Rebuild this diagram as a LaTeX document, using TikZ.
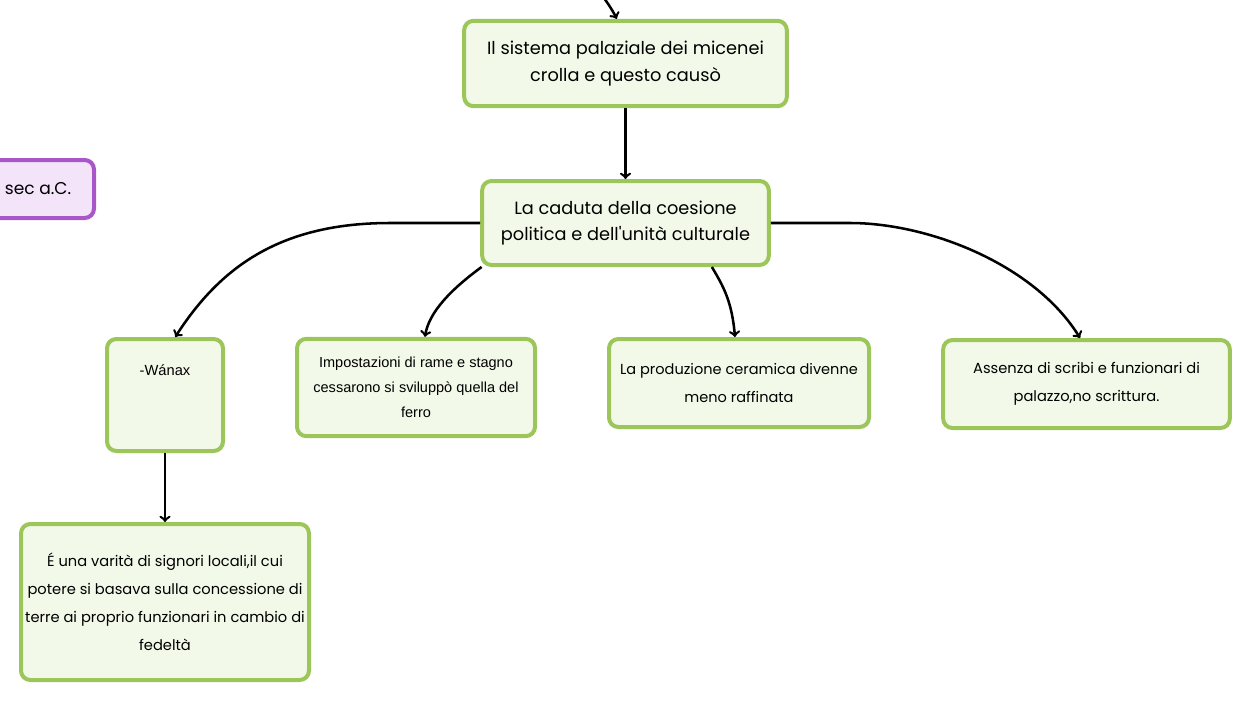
\documentclass[tikz,border=0pt]{standalone}
\usepackage{fontspec}
\setmainfont{Poppins}
\newfontfamily\arialfont{Liberation Sans}
\usepackage{tikz}
\usetikzlibrary{positioning, arrows}
\definecolor{boxgreen}{HTML}{9CC65A}
\definecolor{boxfill}{HTML}{F3F9E9}
\definecolor{boxpurple}{HTML}{A956C8}
\definecolor{purplefill}{HTML}{F3E4FA}
\tikzset{->, >=to, every node/.style={align=center, inner sep=0pt}, concept/.style={draw=boxgreen, fill=boxfill, line width=3pt, rounded corners=7pt}, link/.style={line width=1.9pt}}

\begin{document}
\begin{tikzpicture}[x=0.75pt, y=-0.75pt]
	\useasboundingbox (0,0) rectangle (1252,703);
	\node[concept, minimum width=242pt, minimum height=64pt, font=\fontsize{13.3}{20}\selectfont] at (625.5,63.5) (Crollo) {Il sistema palaziale dei micenei\\crolla e questo causò\rule[-2pt]{0pt}{0pt}};
	\node[concept, minimum width=215pt, minimum height=63pt, font=\fontsize{13.3}{20}\selectfont] at (625.5,223) (Caduta) {La caduta della coesione\\politica e dell\textquotesingle unità culturale};
	\node[draw=boxpurple, fill=purplefill, line width=3pt, rounded corners=7pt, minimum width=84pt, minimum height=43.5pt, font=\fontsize{12.8}{16}\selectfont] at (38,189) (Secolo) {sec a.C.};
	\node[concept, minimum width=87pt, text height=27pt, text depth=57pt, font=\arialfont\fontsize{11}{18}\selectfont] at (165,395) (Wanax) {-Wánax};
	\node[concept, minimum width=178.5pt, minimum height=73pt, font=\arialfont\fontsize{10.9}{18.75}\selectfont] at (416,387.5) (Rame) {Impostazioni di rame e stagno\\cessarono si sviluppò quella del\\ferro};
	\node[concept, minimum width=195pt, minimum height=66pt, font=\fontsize{10.9}{21}\selectfont] at (739,383) (Ceramica) {La produzione ceramica divenne\\meno raffinata};
	\node[concept, minimum width=215pt, minimum height=66pt, font=\fontsize{11}{21}\selectfont] at (1086.5,384) (Scribi) {Assenza di scribi e funzionari di\\palazzo,no scrittura.};
	\node[concept, minimum width=216pt, minimum height=117pt, font=\fontsize{11}{21}\selectfont] at (165,602) (Signori) {É una varità di signori locali,il cui\\potere si basava sulla concessione di\\terre ai proprio funzionari in cambio di\\fedeltà};
	\coordinate (Sopra) at (597,-10);
	% connettori
	\draw[link] (Sopra) .. controls +(8,8) and +(-4,-8) .. (Crollo.101);
	\draw[link] (Crollo) -- (Caduta);
	\draw[link] (Caduta.west) -- ++(-90,0) .. controls +(-110,0) and +(45,-70) .. (Wanax.80);
	\draw[link] (Caduta.-163) .. controls +(-30,22) and +(4,-25) .. (Rame.80);
	\draw[link] (Caduta.-27.5) .. controls +(12,20) and +(-3,-35) .. (Ceramica.95);
	\draw[link] (Caduta.east) -- ++(79,0) .. controls +(80,0) and +(-45,-73) .. (Scribi.98);
	\draw[link] (Wanax) -- (Signori);
\end{tikzpicture}
\end{document}
